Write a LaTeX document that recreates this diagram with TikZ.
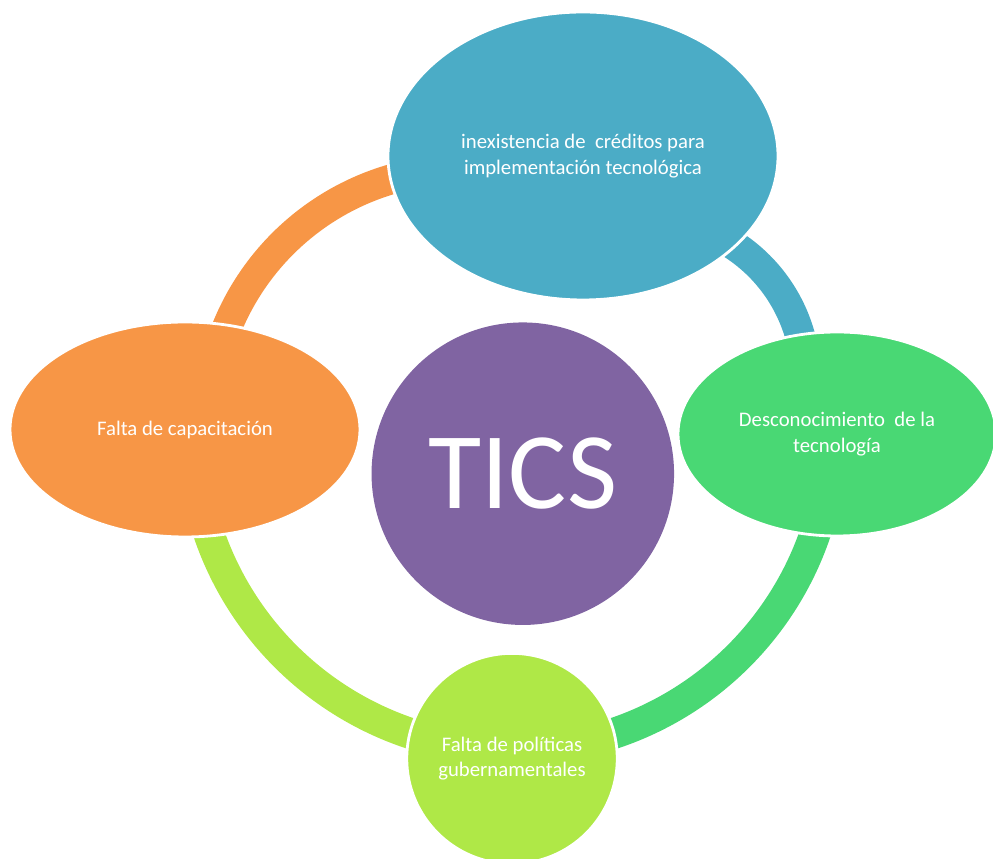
\documentclass[tikz,border=0pt]{standalone}
\usepackage{fontspec}
\setmainfont{Carlito}
\usetikzlibrary{shapes.geometric}

\definecolor{tealblue}{HTML}{4BACC6}
\definecolor{leafgreen}{HTML}{49D874}
\definecolor{softorange}{HTML}{F79646}
\definecolor{limegreen}{HTML}{AFE847}
\definecolor{violet}{HTML}{8064A2}

\begin{document}
\begin{tikzpicture}[
        bubble/.style={ellipse, draw=white, line width=1.6pt, text=white,
            align=center, inner sep=0pt, font=\fontsize{11.8}{14.4}\selectfont},
        band/.style={line width=0.6cm}
    ]
        \useasboundingbox (0,0) rectangle (19.86,17.18);

        % Ring segments, drawn first so the bubbles cover their ends
        \coordinate (ring) at (10.24,8.59);
        \coordinate (arcleft) at (9.26,8.7);
        \coordinate (arcright) at (12.92,9.6);
        \draw[band, softorange] (arcleft) ++(160:5.1) arc[start angle=160, end angle=100, radius=5.1];
        \draw[band, tealblue] (arcright) ++(60:3.2) arc[start angle=60, end angle=12, radius=3.2];
        \draw[band, line width=0.62cm, leafgreen] (ring) ++(-16:6.41) arc[start angle=-16, end angle=-74, radius=6.41];
        \draw[band, line width=0.62cm, limegreen] (ring) ++(196:6.41) arc[start angle=196, end angle=254, radius=6.41];

        % Causes around the ring
        \node[bubble, fill=tealblue, minimum width=7.8cm, minimum height=5.76cm] (creditos) at (11.66,14.06)
            {inexistencia de\ \ créditos para\\implementación tecnológica};
        \node[bubble, fill=leafgreen, minimum width=6.36cm, minimum height=4.08cm] (desconocimiento) at (16.74,8.5)
            {Desconocimiento\ \ de la\\tecnología};
        \node[bubble, fill=limegreen, circle, minimum size=4.21cm] (politicas) at (10.24,2.008)
            {Falta de políticas\\gubernamentales};
        \node[bubble, fill=softorange, minimum width=7cm, minimum height=4.3cm] (capacitacion) at (3.7,8.59)
            {Falta de capacitación};

        % Centre
        \node[circle, fill=violet, text=white, minimum size=6.05cm, inner sep=0pt,
            font=\fontsize{62}{62}\selectfont] (tics) at (10.456,7.706) {TICS};
\end{tikzpicture}
\end{document}
